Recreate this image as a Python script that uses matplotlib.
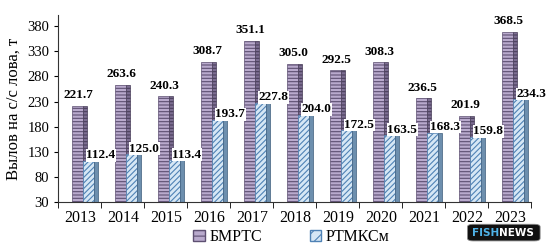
import numpy as np
import matplotlib.pyplot as plt
from matplotlib.patches import Patch, FancyBboxPatch

years = ['2013', '2014', '2015', '2016', '2017', '2018', '2019', '2020', '2021', '2022', '2023']
bmrts = [221.7, 263.6, 240.3, 308.7, 351.1, 305.0, 292.5, 308.3, 236.5, 201.9, 368.5]
rtmks = [112.4, 125.0, 113.4, 193.7, 227.8, 204.0, 172.5, 163.5, 168.3, 159.8, 234.3]
yticks = [30, 80, 130, 180, 230, 280, 330, 380]

plt.rcParams['font.family'] = ['Liberation Serif', 'DejaVu Serif']
plt.rcParams['hatch.linewidth'] = 0.8

fig = plt.figure(figsize=(5.5, 2.52), dpi=100)
ax = fig.add_axes([0.106, 0.198, 0.86, 0.742])

x = np.arange(len(years))
base = 30
w = 0.27
side = 0.09

# БМРТС bars: face + darker side
ax.bar(x - 0.19, np.array(bmrts) - base, bottom=base, width=w, align='edge',
       color='#b9aacd', edgecolor='#5e5072', hatch='-----', linewidth=0.5)
ax.bar(x - 0.19 + w, np.array(bmrts) - base, bottom=base, width=side, align='edge',
       color='#7d6e93', edgecolor='#4a3f5a', hatch='-----', linewidth=0.5)

# РТМКСм bars: face + darker side
ax.bar(x + 0.07, np.array(rtmks) - base, bottom=base, width=w, align='edge',
       color='#d6e7f5', edgecolor='#4f82b5', hatch='//////', linewidth=0.5)
ax.bar(x + 0.07 + w, np.array(rtmks) - base, bottom=base, width=side, align='edge',
       color='#6d8fae', edgecolor='#3f5e7c', linewidth=0.5)

for xi, v in zip(x, bmrts):
    ax.text(xi - 0.04, v + 9, f'{v:.1f}', ha='center', va='bottom',
            fontsize=9.5, fontweight='bold')
for xi, v in zip(x, rtmks):
    ax.text(xi + 0.15, v - 1, f'{v:.1f}', ha='left', va='bottom',
            fontsize=9.5, fontweight='bold',
            bbox=dict(facecolor='white', edgecolor='none', pad=0.3))

ax.set_xlim(-0.5, len(years) - 0.5)
ax.set_ylim(30, 402)
ax.set_yticks(yticks)
ax.tick_params(axis='y', labelsize=10.5, length=3, direction='out')
ax.set_xticks(x)
ax.set_xticklabels(years, fontsize=11.5)
ax.tick_params(axis='x', length=0, pad=6)
ax.set_xticks(np.arange(-0.5, len(years)), minor=True)
ax.tick_params(axis='x', which='minor', length=4, direction='out')
for s in ['top', 'right']:
    ax.spines[s].set_visible(False)
ax.spines['left'].set_color('#333333')
ax.spines['bottom'].set_color('#333333')
ax.set_ylabel('Вылов на с/с лова, т', fontsize=12, labelpad=4)

handles = [Patch(facecolor='#b9aacd', edgecolor='#5e5072', hatch='---', label='БМРТС'),
           Patch(facecolor='#d6e7f5', edgecolor='#4f82b5', hatch='///', label='РТМКСм')]
fig.legend(handles=handles, loc='center', bbox_to_anchor=(0.53, 0.06), ncol=2,
           frameon=False, fontsize=11.5, handlelength=0.7, handleheight=0.7,
           handletextpad=0.3, columnspacing=3.0)

# watermark
fig.patches.append(FancyBboxPatch((0.85, 0.044), 0.132, 0.066,
                                  boxstyle='round,pad=0.0,rounding_size=0.01',
                                  transform=fig.transFigure, facecolor='#111111',
                                  edgecolor='#888888', linewidth=0.6))
fig.text(0.908, 0.077, 'FISH', fontsize=7.5, fontweight='bold', color='#4fb3e8',
         family='DejaVu Sans', va='center', ha='right')
fig.text(0.908, 0.077, 'NEWS', fontsize=7.5, fontweight='bold', color='white',
         family='DejaVu Sans', va='center', ha='left')

fig.savefig('out.png', dpi=100)
